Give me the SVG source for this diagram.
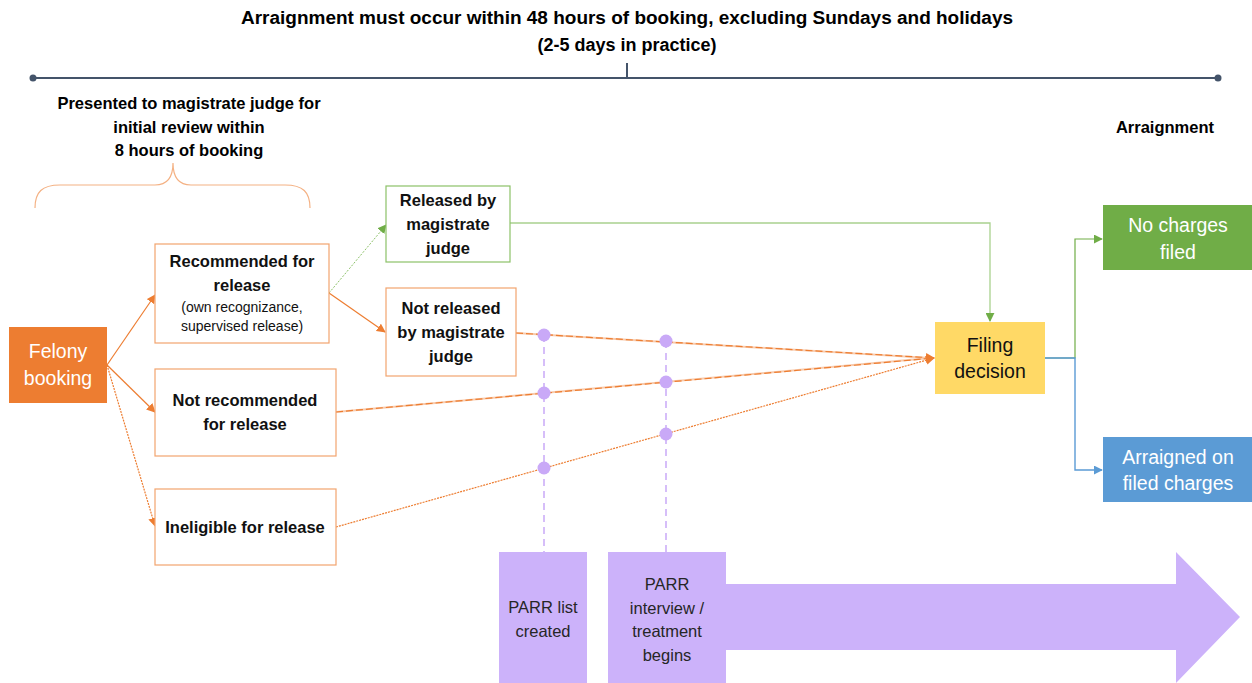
<svg xmlns="http://www.w3.org/2000/svg" width="1252" height="683" viewBox="0 0 1252 683">
<defs>
<style>
text{font-family:"Liberation Sans",Arial,sans-serif;text-anchor:middle}
.hd{font-size:18px;font-weight:bold;fill:#000}
.sub{font-size:16.5px;font-weight:bold;fill:#000}
.bx{font-size:16.5px;font-weight:bold;fill:#111}
.sm{font-size:14px;fill:#111}
.big{font-size:19.5px}
.wt{fill:#fff}
.ob{fill:#fff;stroke:#F2A46E;stroke-width:1.2}
.gb{fill:#fff;stroke:#8CC168;stroke-width:1.2}
.or{stroke:#ED7D31;stroke-width:1.2;fill:none}
.ul{stroke:#F8CBAD;stroke-width:2;fill:none}
.pd{stroke:#C9A9F7;stroke-width:1.5;stroke-dasharray:7 5;fill:none}
.pt{font-size:16.5px;fill:#262626}
</style>
<marker id="ao" viewBox="0 0 10 10" refX="9" refY="5" markerWidth="9" markerHeight="9" markerUnits="userSpaceOnUse" orient="auto"><path d="M0,0L10,5L0,10z" fill="#ED7D31"/></marker>
<marker id="ag" viewBox="0 0 10 10" refX="9" refY="5" markerWidth="9" markerHeight="9" markerUnits="userSpaceOnUse" orient="auto"><path d="M0,0L10,5L0,10z" fill="#70AD47"/></marker>
<marker id="ab" viewBox="0 0 10 10" refX="9" refY="5" markerWidth="9" markerHeight="9" markerUnits="userSpaceOnUse" orient="auto"><path d="M0,0L10,5L0,10z" fill="#5B9BD5"/></marker>
</defs>
<rect width="1252" height="683" fill="#fff"/>

<g id="timeline">
<text class="hd" x="627" y="24" textLength="772" lengthAdjust="spacingAndGlyphs">Arraignment must occur within 48 hours of booking, excluding Sundays and holidays</text>
<text class="hd" x="627" y="51">(2-5 days in practice)</text>
<line x1="33" y1="78" x2="1218" y2="78" stroke="#44546A" stroke-width="2"/>
<line x1="627" y1="63" x2="627" y2="78" stroke="#44546A" stroke-width="2"/>
<circle cx="33" cy="78" r="3.5" fill="#44546A"/>
<circle cx="1218" cy="78" r="3.5" fill="#44546A"/>
<text class="sub" x="189" y="109">Presented to magistrate judge for</text>
<text class="sub" x="189" y="133">initial review within</text>
<text class="sub" x="189" y="156">8 hours of booking</text>
<text class="sub" x="1165" y="133">Arraignment</text>
<path d="M35,208 C35,192 42,185 60,185 L155,185 C166,185 173,178 173,163 C173,178 180,185 191,185 L285,185 C303,185 310,192 310,208" fill="none" stroke="#F4B183" stroke-width="1.2"/>
</g>

<g id="connectors">
<line class="or" x1="107" y1="365" x2="155" y2="295" marker-end="url(#ao)"/>
<line class="or" x1="107" y1="365" x2="155" y2="412" marker-end="url(#ao)"/>
<line class="or" x1="107" y1="365" x2="155" y2="526" stroke-dasharray="2 1" marker-end="url(#ao)"/>
<line x1="329" y1="293" x2="386" y2="225" stroke="#8CC168" stroke-width="1" stroke-dasharray="2 1.5" marker-end="url(#ag)"/>
<line class="or" x1="329" y1="293" x2="385" y2="332" marker-end="url(#ao)"/>
<polyline points="510,223 990,223 990,321" fill="none" stroke="#A9D18E" stroke-width="1.3" marker-end="url(#ag)"/>
<line class="ul" x1="516" y1="333" x2="930" y2="358"/>
<line class="or" x1="516" y1="333" x2="934" y2="358" stroke-dasharray="7 3" marker-end="url(#ao)"/>
<line class="ul" x1="336" y1="412" x2="930" y2="358"/>
<line class="or" x1="336" y1="412" x2="934" y2="358" stroke-dasharray="7 3" marker-end="url(#ao)"/>
<line class="or" x1="336" y1="527" x2="934" y2="358" stroke-dasharray="2 1" marker-end="url(#ao)"/>
<polyline points="1045,358 1075,358 1075,239 1102,239" fill="none" stroke="#70AD47" stroke-width="1.2" marker-end="url(#ag)"/>
<polyline points="1045,358 1075,358 1075,470 1102,470" fill="none" stroke="#5B9BD5" stroke-width="1.4" marker-end="url(#ab)"/>
<line class="pd" x1="544" y1="335" x2="544" y2="552"/>
<line class="pd" x1="666" y1="341" x2="666" y2="552"/>
<g fill="#C9A9F7">
<circle cx="544" cy="335" r="6.5"/>
<circle cx="544" cy="393" r="6.5"/>
<circle cx="544" cy="468" r="6.5"/>
<circle cx="666" cy="341" r="6.5"/>
<circle cx="666" cy="382" r="6.5"/>
<circle cx="666" cy="434" r="6.5"/>
</g>
</g>

<g id="felony">
<rect x="9" y="327" width="98" height="76" fill="#ED7D31"/>
<text class="big wt" x="58" y="358">Felony</text>
<text class="big wt" x="58" y="385">booking</text>
</g>
<g id="recommended">
<rect class="ob" x="155" y="244" width="174" height="99"/>
<text class="bx" x="242" y="267">Recommended for</text>
<text class="bx" x="242" y="291">release</text>
<text class="sm" x="242" y="312">(own recognizance,</text>
<text class="sm" x="242" y="331">supervised release)</text>
</g>
<g id="not-recommended">
<rect class="ob" x="155" y="369" width="181" height="87"/>
<text class="bx" x="245" y="406">Not recommended</text>
<text class="bx" x="245" y="430">for release</text>
</g>
<g id="ineligible">
<rect class="ob" x="155" y="489" width="181" height="76"/>
<text class="bx" x="245" y="533">Ineligible for release</text>
</g>
<g id="released">
<rect class="gb" x="386" y="186" width="124" height="76"/>
<text class="bx" x="448" y="206">Released by</text>
<text class="bx" x="448" y="230">magistrate</text>
<text class="bx" x="448" y="254">judge</text>
</g>
<g id="not-released">
<rect class="ob" x="386" y="288" width="130" height="88"/>
<text class="bx" x="451" y="314">Not released</text>
<text class="bx" x="451" y="338">by magistrate</text>
<text class="bx" x="451" y="362">judge</text>
</g>
<g id="filing">
<rect x="935" y="322" width="110" height="72" fill="#FFD966"/>
<text class="big" x="990" y="352" fill="#111">Filing</text>
<text class="big" x="990" y="378" fill="#111">decision</text>
</g>
<g id="no-charges">
<rect x="1103" y="205" width="149" height="65" fill="#70AD47"/>
<text class="big wt" x="1178" y="232">No charges</text>
<text class="big wt" x="1178" y="259">filed</text>
</g>
<g id="arraigned">
<rect x="1103" y="437" width="149" height="65" fill="#5B9BD5"/>
<text class="big wt" x="1178" y="464">Arraigned on</text>
<text class="big wt" x="1178" y="490">filed charges</text>
</g>
<g id="parr-list">
<rect x="499" y="552" width="88" height="131" fill="#CCB2FA"/>
<text class="pt" x="543" y="613">PARR list</text>
<text class="pt" x="543" y="637">created</text>
</g>
<g id="parr-interview">
<path d="M608,552 L726,552 L726,584 L1176,584 L1176,552 L1240,617 L1176,683 L1176,650 L726,650 L726,683 L608,683 Z" fill="#CCB2FA"/>
<text class="pt" x="667" y="590">PARR</text>
<text class="pt" x="667" y="614">interview /</text>
<text class="pt" x="667" y="637">treatment</text>
<text class="pt" x="667" y="661">begins</text>
</g>
</svg>
